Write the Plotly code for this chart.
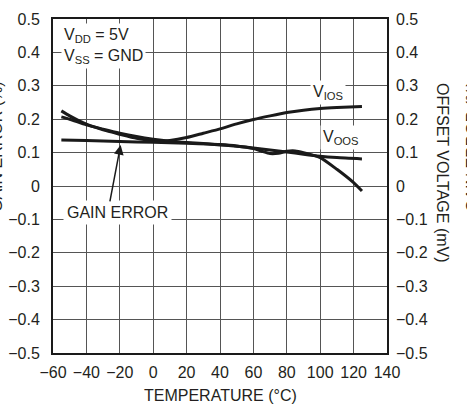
import plotly.graph_objects as go

# ---- data ----
temp_vios = [-55, -50, -40, -30, -20, -10, 0, 5, 10, 20, 30, 40, 50, 60, 70, 80, 90, 100, 110, 125]
vios = [0.225, 0.21, 0.185, 0.168, 0.155, 0.143, 0.136, 0.134, 0.136, 0.145, 0.158, 0.171, 0.186, 0.199, 0.21, 0.22, 0.227, 0.232, 0.235, 0.238]

temp_voos = [-55, -50, -40, -30, -20, -10, 0, 10, 20, 30, 40, 50, 60, 70, 80, 90, 100, 110, 125]
voos = [0.207, 0.2, 0.183, 0.17, 0.158, 0.148, 0.14, 0.134, 0.13, 0.127, 0.123, 0.119, 0.114, 0.108, 0.102, 0.095, 0.089, 0.085, 0.081]

temp_gain = [-55, -40, -20, 0, 20, 40, 50, 60, 65, 70, 75, 80, 85, 90, 100, 110, 120, 125]
gain = [0.138, 0.136, 0.133, 0.131, 0.128, 0.124, 0.12, 0.112, 0.104, 0.097, 0.098, 0.104, 0.105, 0.1, 0.085, 0.05, 0.01, -0.015]

x_ticks = [-60, -40, -20, 0, 20, 40, 60, 80, 100, 120, 140]
y_ticks = [0.5, 0.4, 0.3, 0.2, 0.1, 0, -0.1, -0.2, -0.3, -0.4, -0.5]
y_labels = ["0.5", "0.4", "0.3", "0.2", "0.1", "0", "\u22120.1", "\u22120.2", "\u22120.3", "\u22120.4", "\u22120.5"]

FONT = "Liberation Sans, Arial, sans-serif"
FS = 16
TXT = "#231f20"
LINE = "#1a1a1a"

fig = go.Figure()
for xs, ys in [(temp_vios, vios), (temp_voos, voos), (temp_gain, gain)]:
    fig.add_trace(go.Scatter(x=xs, y=ys, mode="lines", line=dict(color=LINE, width=3, shape="spline", smoothing=0.6),
                             showlegend=False, hoverinfo="skip"))
# invisible trace for the right axis
fig.add_trace(go.Scatter(x=[0], y=[0], yaxis="y2", mode="markers", marker=dict(opacity=0), showlegend=False, hoverinfo="skip"))

L, R, T, B = 53, 387, 19, 353
W, H = R - L, B - T

def px(x):
    return (x - L) / W

def py(y):
    return (B - y) / H

ann = []
def label(text, x, y, **kw):
    d = dict(text=text, x=px(x), y=py(y), xref="paper", yref="paper", showarrow=False,
             font=dict(family=FONT, size=FS, color=TXT), xanchor="center", yanchor="middle")
    d.update(kw)
    ann.append(d)

label("V<sub>DD</sub> = 5V<br>V<sub>SS</sub> = GND", 61, 46, xanchor="left", align="left", bgcolor="white", borderpad=2)
label("V<sub>IOS</sub>", 328, 92, bgcolor="white", borderpad=2)
label("V<sub>OOS</sub>", 341, 137, bgcolor="white", borderpad=2)
label("GAIN ERROR", 117, 212, bgcolor="white", borderpad=3)
label("TEMPERATURE (\u00b0C)", 220, 395)
label("GAIN ERROR (%)", -4, 147, textangle=-90)
label("OFFSET VOLTAGE (mV)", 443, 173, textangle=90)
label("GAIN ERROR (%)", 472, 147, textangle=-90)

# arrow for gain error
ann.append(dict(x=-19.5, y=0.123, xref="x", yref="y", ax=-11, ay=58, axref="pixel", ayref="pixel",
                text="", showarrow=True, arrowhead=2, arrowsize=1.3, arrowwidth=1.5, arrowcolor=LINE))

fig.update_layout(
    width=467, height=406,
    margin=dict(l=L, r=467 - R, t=T, b=406 - B, autoexpand=False),
    paper_bgcolor="white", plot_bgcolor="white",
    font=dict(family=FONT, size=FS, color=TXT),
    xaxis=dict(range=[-60, 140], tickvals=x_ticks, ticktext=[("\u2212" + str(-v)) if v < 0 else str(v) for v in x_ticks],
               showgrid=True, gridcolor="#555555", gridwidth=1, zeroline=False, tickangle=0, automargin=False,
               showline=True, linecolor=LINE, linewidth=2, mirror=True, ticks="", fixedrange=True,
               ticklabelstandoff=4),
    yaxis=dict(range=[-0.5, 0.5], tickvals=y_ticks, ticktext=y_labels, automargin=False,
               showgrid=True, gridcolor="#555555", gridwidth=1, zeroline=False,
               showline=True, linecolor=LINE, linewidth=2, mirror=True, ticks="", fixedrange=True,
               ticklabelstandoff=8),
    yaxis2=dict(range=[-0.5, 0.5], tickvals=y_ticks, ticktext=y_labels, overlaying="y", side="right", automargin=False,
                showgrid=False, zeroline=False, showline=False, ticks="", fixedrange=True,
                ticklabelstandoff=8),
    annotations=ann,
)

fig.write_html("out.html", config={"displayModeBar": False, "staticPlot": True},
               post_script="document.body.style.margin='0';document.body.style.padding='0';")
